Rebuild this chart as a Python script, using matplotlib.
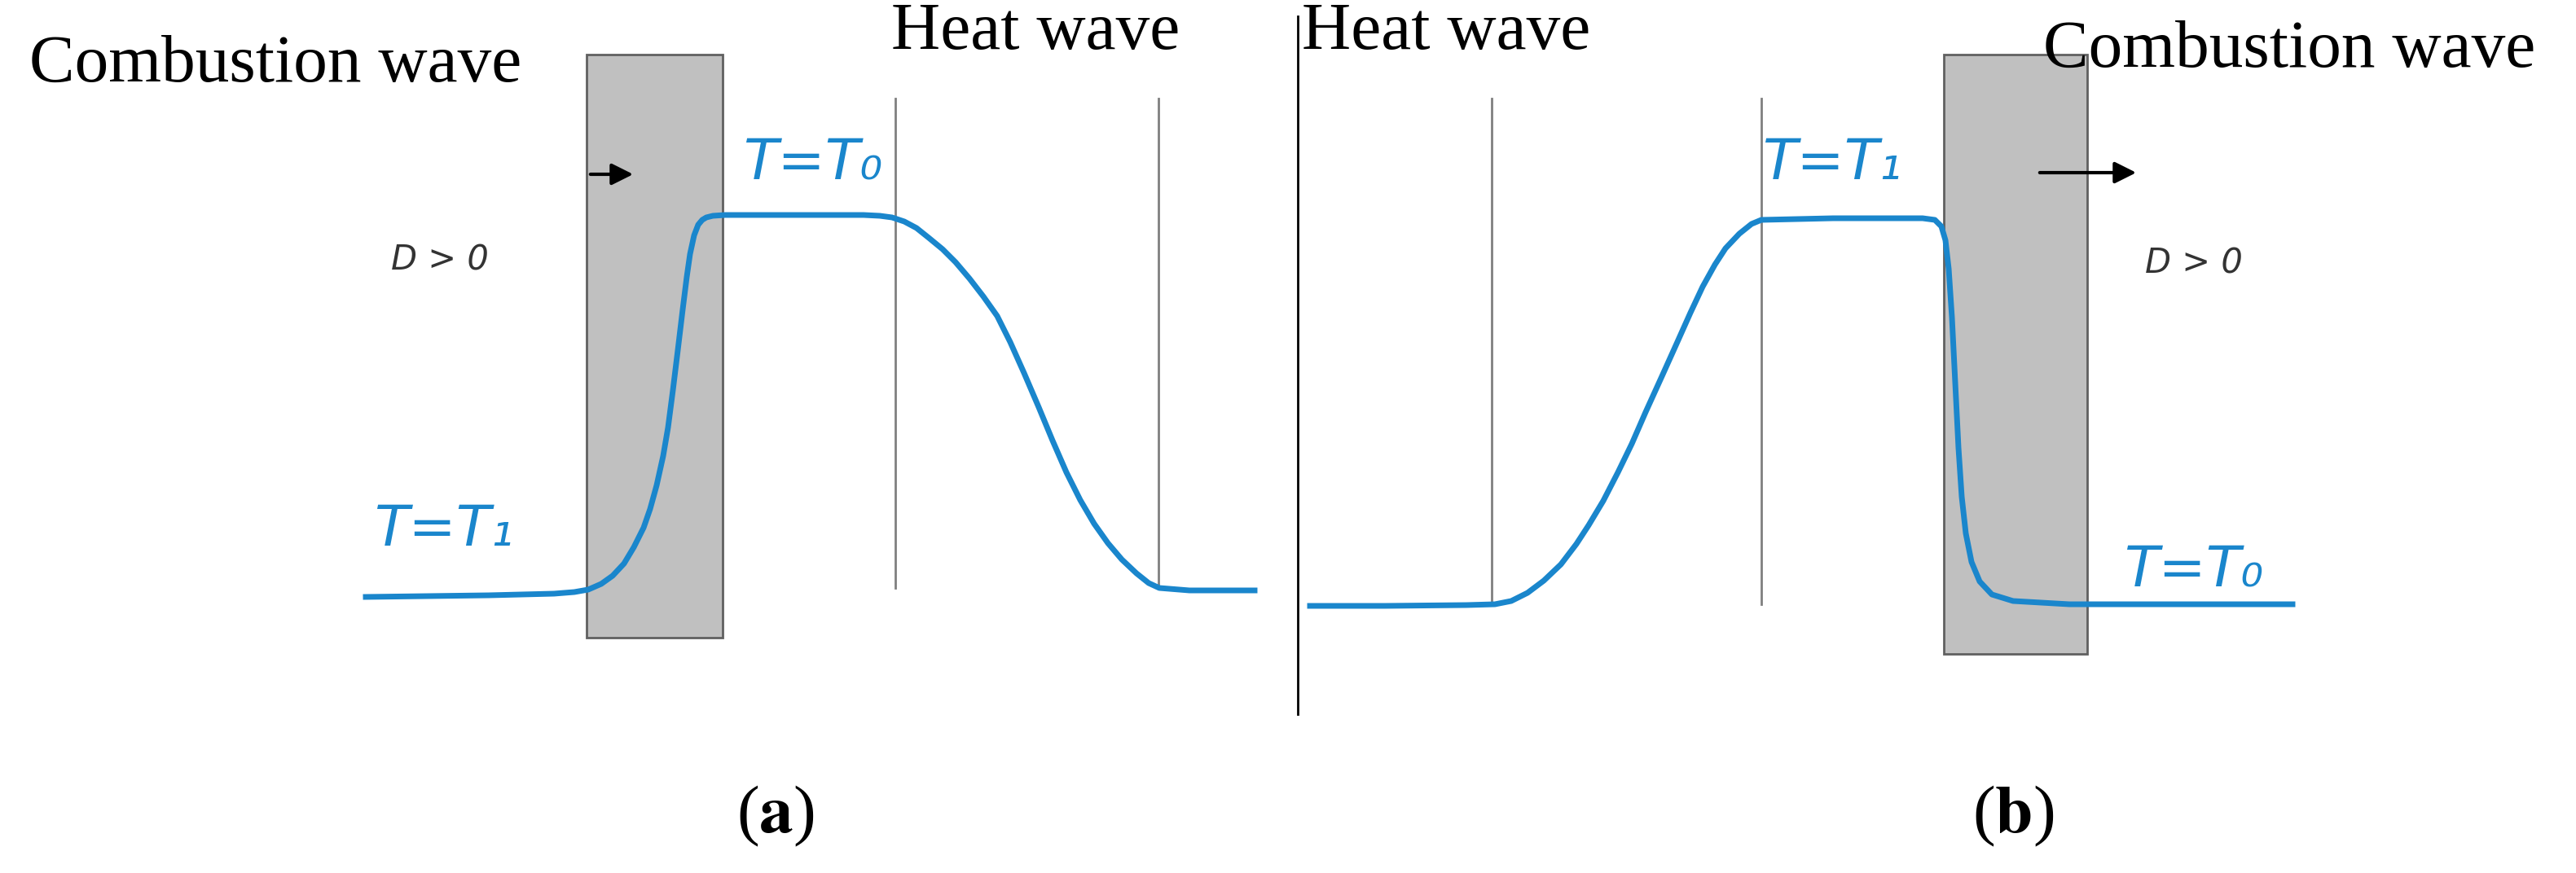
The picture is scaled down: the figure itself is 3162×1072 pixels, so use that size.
import numpy as np
import matplotlib.pyplot as plt

plt.rcParams["mathtext.fontset"] = "stix"

# schematic temperature profiles (pixel coordinates)
curve_a_x = [449, 600, 680, 705, 722, 738, 752, 766, 778, 790, 798, 806, 814, 820, 826, 832, 838, 843, 847, 852, 857, 862, 867, 875, 890, 1000, 1060, 1080, 1095, 1110, 1125, 1140, 1157, 1173, 1190, 1207, 1224, 1240, 1257, 1275, 1292, 1309, 1326, 1343, 1360, 1377, 1395, 1410, 1423, 1460, 1540]
curve_a_y = [733, 731, 729, 727, 724, 717, 707, 692, 672, 648, 625, 596, 560, 525, 479, 430, 380, 340, 312, 289, 276, 270, 267, 265, 264, 264, 264, 265, 267, 272, 280, 292, 306, 322, 342, 364, 388, 420, 458, 500, 541, 580, 614, 643, 667, 687, 704, 716, 722, 725, 725]

curve_b_x = [1608, 1700, 1800, 1835, 1855, 1875, 1895, 1916, 1935, 1950, 1968, 1986, 2003, 2020, 2040, 2058, 2075, 2090, 2105, 2118, 2135, 2150, 2162, 2250, 2360, 2375, 2383, 2388, 2392, 2396, 2400, 2404, 2408, 2413, 2420, 2430, 2445, 2471, 2540, 2814]
curve_b_y = [744, 744, 743, 742, 738, 728, 713, 693, 668, 645, 615, 580, 545, 506, 462, 422, 384, 352, 325, 305, 287, 275, 270, 268, 268, 270, 278, 295, 330, 390, 470, 550, 610, 655, 690, 714, 730, 738, 742, 742]

bands = [(720, 887, 67, 783), (2386, 2562, 67, 803)]
heat_lines = [(1099, 121, 722), (1422, 121, 722), (1831, 121, 742), (2162, 121, 742)]

BLUE = "#1a86cc"
fig = plt.figure(figsize=(31.62, 10.72), dpi=100)
ax = fig.add_axes([0, 0, 1, 1])
ax.set_xlim(0, 3162)
ax.set_ylim(1072, 0)
ax.axis("off")

for x0, x1, y0, y1 in bands:
    ax.add_patch(plt.Rectangle((x0, y0), x1 - x0, y1 - y0, facecolor="#c0c0c0",
                               edgecolor="#606060", linewidth=2, zorder=1))
for x, y0, y1 in heat_lines:
    ax.plot([x, x], [y0, y1], color="#808080", linewidth=2, zorder=1)
ax.plot([1593, 1593], [20, 877], color="black", linewidth=2)

ax.plot(curve_a_x, curve_a_y, color=BLUE, linewidth=5, zorder=3, solid_joinstyle="round")
ax.plot(curve_b_x, curve_b_y, color=BLUE, linewidth=5, zorder=3, solid_joinstyle="round")

serif = dict(family="Liberation Serif", fontsize=60, ha="center", va="center")
ax.text(338, 80, "Combustion wave", **serif)
ax.text(1271, 40, "Heat wave", **serif)
ax.text(1775, 40, "Heat wave", **serif)
ax.text(2810, 62, "Combustion wave", **serif)
ax.text(952, 1002, r"($\mathbf{a}$)", **serif)
ax.text(2471, 1002, r"($\mathbf{b}$)", **serif)

lab = dict(family="DejaVu Sans", fontsize=50, color=BLUE, style="italic",
           ha="center", va="center")
ax.text(998, 200, "T=T₀", **lab)
ax.text(545, 650, "T=T₁", **lab)
ax.text(2249, 200, "T=T₁", **lab)
ax.text(2693, 700, "T=T₀", **lab)

dl = dict(family="DejaVu Sans", fontsize=30, color="#333333", style="italic",
          ha="center", va="center")
ax.text(540, 319, "D > 0", **dl)
ax.text(2693, 323, "D > 0", **dl)

for x0, x1, y in [(722, 780, 214), (2501, 2625, 212)]:
    ax.annotate("", xy=(x1, y), xytext=(x0, y),
                arrowprops=dict(arrowstyle="-|>", color="black", lw=3, mutation_scale=40))

fig.savefig("out.png", dpi=100, facecolor="white")
